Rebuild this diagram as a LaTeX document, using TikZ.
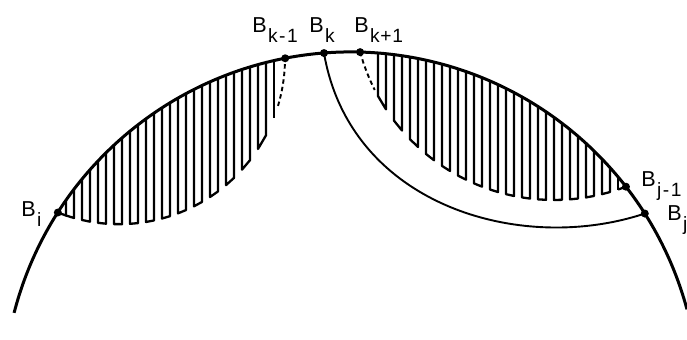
\documentclass[tikz,border=0pt]{standalone}
\usepackage{fontspec}
\setmainfont{Liberation Sans}
\newcommand\Blab[1]{B\kern0.6pt\raisebox{-4.8pt}{\fontsize{9.6}{11}\selectfont #1}}
\begin{document}
\begin{tikzpicture}[x=0.5pt,y=-0.5pt,
  outer/.style={line width=1.5pt},
  inner/.style={line width=0.95pt},
  hatch/.style={line width=1.15pt, line join=round},
  dashpart/.style={line width=0.95pt, dash pattern=on 2.2pt off 1.6pt},
  dot/.style={circle, fill, inner sep=0pt, minimum size=4pt},
  lab/.style={anchor=base west, inner sep=0pt, font=\fontsize{10.8}{13}\selectfont}]
\useasboundingbox (0,0) rectangle (687,340);

% big circle: centre (351,400), radius 348 (image pixels, y downwards)
\draw[outer] (351,400) ++(-165.5:348) arc[start angle=-165.5, end angle=-15.1, radius=348];

% points on the circle
\path (351,400) ++(-147.4:348) coordinate (Bi);
\path (351,400) ++(-100.9:348) coordinate (Bkm);
\path (351,400) ++(-94.45:348) coordinate (Bk);
\path (351,400) ++(-88.5:348)  coordinate (Bkp);
\path (351,400) ++(-37.8:348)  coordinate (Bjm);
\path (351,400) ++(-32.4:348)  coordinate (Bj);

% left hatched lens: lower boundary circle centre (119,58.2), r 166
\draw[hatch] (119,58.2) ++(111.67:166) arc[start angle=111.67, end angle=108.6, radius=166];
\foreach \k in {0,2,...,24} {
  \pgfmathsetmacro\xa{66+8*\k}
  \pgfmathsetmacro\xb{\xa+8}
  \pgfmathsetmacro\ta{400-348*sqrt(1-((\xa-351)/348)^2)}
  \pgfmathsetmacro\tb{400-348*sqrt(1-((\xb-351)/348)^2)}
  \pgfmathsetmacro\ba{58.2+166*sqrt(1-((\xa-119)/166)^2)}
  \pgfmathsetmacro\bb{58.2+166*sqrt(1-((\xb-119)/166)^2)}
  \draw[hatch] (\xa,\ta) -- (\xa,\ba) -- (\xb,\bb) -- (\xb,\tb);
}
\pgfmathsetmacro\xl{274}
\pgfmathsetmacro\tl{400-348*sqrt(1-((\xl-351)/348)^2)}
\pgfmathsetmacro\bl{58.2+166*sqrt(1-((\xl-119)/166)^2)}
\draw[hatch] (\xl,\tl) -- (\xl,\bl);
\draw[dashpart] (119,58.2) ++(16.7:166) arc[start angle=16.7, end angle=0, radius=166];

% right hatched lens: lower boundary circle centre (554,-1), r 201
\foreach \k in {0,2,...,28} {
  \pgfmathsetmacro\xa{378+8*\k}
  \pgfmathsetmacro\xb{\xa+8}
  \pgfmathsetmacro\ta{400-348*sqrt(1-((\xa-351)/348)^2)}
  \pgfmathsetmacro\tb{400-348*sqrt(1-((\xb-351)/348)^2)}
  \pgfmathsetmacro\ba{-1+201*sqrt(1-((\xa-554)/201)^2)}
  \pgfmathsetmacro\bb{-1+201*sqrt(1-((\xb-554)/201)^2)}
  \draw[hatch] (\xa,\ta) -- (\xa,\ba) -- (\xb,\bb) -- (\xb,\tb);
}
\pgfmathsetmacro\xr{618}
\pgfmathsetmacro\tr{400-348*sqrt(1-((\xr-351)/348)^2)}
\pgfmathsetmacro\br{-1+201*sqrt(1-((\xr-554)/201)^2)}
\draw[hatch] (\xr,\tr) -- (\xr,\br);
\draw[hatch] (554,-1) ++(71.4:201) arc[start angle=71.4, end angle=69.0, radius=201];
\draw[dashpart] (554,-1) ++(164.7:201) arc[start angle=164.7, end angle=153.1, radius=201];

% thin curve from B_k to B_j
\draw[inner] (Bk) .. controls (350,205) and (520,255) .. (Bj);

% dots
\node[dot] (dBi)  at (Bi)  {};
\node[dot] (dBkm) at (Bkm) {};
\node[dot] (dBk)  at (Bk)  {};
\node[dot] (dBkp) at (Bkp) {};
\node[dot] (dBjm) at (Bjm) {};
\node[dot] (dBj)  at (Bj)  {};

% labels
\node[lab] (LBkm) at (252,33)  {\Blab{k\kern0.8pt-\kern0.8pt1}};
\node[lab] (LBk)  at (309,33)  {\Blab{k}};
\node[lab] (LBkp) at (354,33)  {\Blab{k\kern0.4pt+\kern0.4pt1}};
\node[lab] (LBi)  at (21,217)  {\Blab{i}};
\node[lab] (LBjm) at (641,187) {\Blab{j\kern0.8pt-\kern0.8pt1}};
\node[lab] (LBj)  at (667,221) {\Blab{j}};
\end{tikzpicture}
\end{document}
